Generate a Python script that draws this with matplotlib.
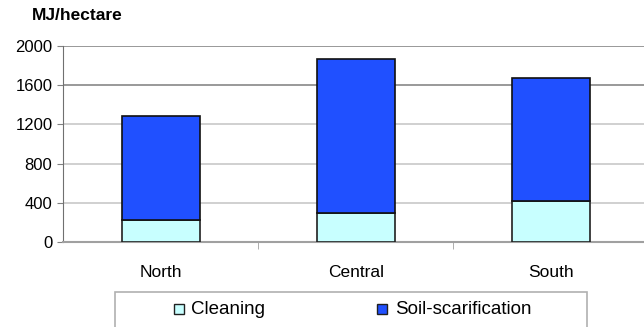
import matplotlib.pyplot as plt
import numpy as np
from matplotlib.patches import Rectangle

plt.rcParams['font.family'] = ['Liberation Sans', 'DejaVu Sans']

regions = ['North', 'Central', 'South']
cleaning = [227, 301, 423]
soil_scarification = [1058, 1561, 1245]

x = np.arange(len(regions))

fig = plt.figure(figsize=(6.44, 3.27), dpi=100)
ax = fig.add_axes([0.0986, 0.259, 0.908, 0.601])

ax.bar(x, cleaning, width=0.4, color='#c8ffff', edgecolor='#202020', linewidth=1.2,
       label='Cleaning', zorder=3)
ax.bar(x, soil_scarification, width=0.4, bottom=cleaning, color='#2050ff',
       edgecolor='#101010', linewidth=1.2, label='Soil-scarification', zorder=3)

ax.set_xlim(-0.5, 2.5)
ax.set_ylim(0, 2000)
ax.set_yticks(range(0, 2001, 400))
ax.tick_params(axis='y', labelsize=12, length=4, color='#808080', pad=4)

# category labels centred, tick marks between categories
ax.set_xticks(x)
ax.set_xticklabels(regions, fontsize=12.5)
ax.tick_params(axis='x', length=0, pad=16)
ax.set_xticks([0.5, 1.5], minor=True)
ax.tick_params(axis='x', which='minor', length=5, color='#a0a0a0', direction='out')

for v in range(400, 2001, 400):
    c = '#888888' if v >= 1600 else '#c8c8c8'
    ax.axhline(v, color=c, linewidth=1.2, zorder=1)

for s in ['top', 'right']:
    ax.spines[s].set_visible(False)
ax.spines['left'].set_color('#707070')
ax.spines['bottom'].set_color('#a0a0a0')
ax.spines['bottom'].set_linewidth(1.5)

fig.text(32 / 644, (327 - 15) / 327, 'MJ/hectare', fontsize=12.5, fontweight='bold', va='center')

# legend box below the chart
fig.patches.append(Rectangle((115 / 644, -0.01), 472 / 644, (327 - 291.7) / 327 + 0.01,
                             transform=fig.transFigure, facecolor='white',
                             edgecolor='#b0b0b0', linewidth=1.2))
for mx, tx, lab, col in [(179, 191, 'Cleaning', '#c8ffff'),
                         (382, 395, 'Soil-scarification', '#2050ff')]:
    fig.patches.append(Rectangle(((mx - 5) / 644, (327 - 314) / 327), 10 / 644, 10 / 327,
                                 transform=fig.transFigure, facecolor=col,
                                 edgecolor='#202020', linewidth=1))
    fig.text(tx / 644, (327 - 309) / 327, lab, fontsize=13.5, va='center')

fig.savefig('out.png', dpi=100)
